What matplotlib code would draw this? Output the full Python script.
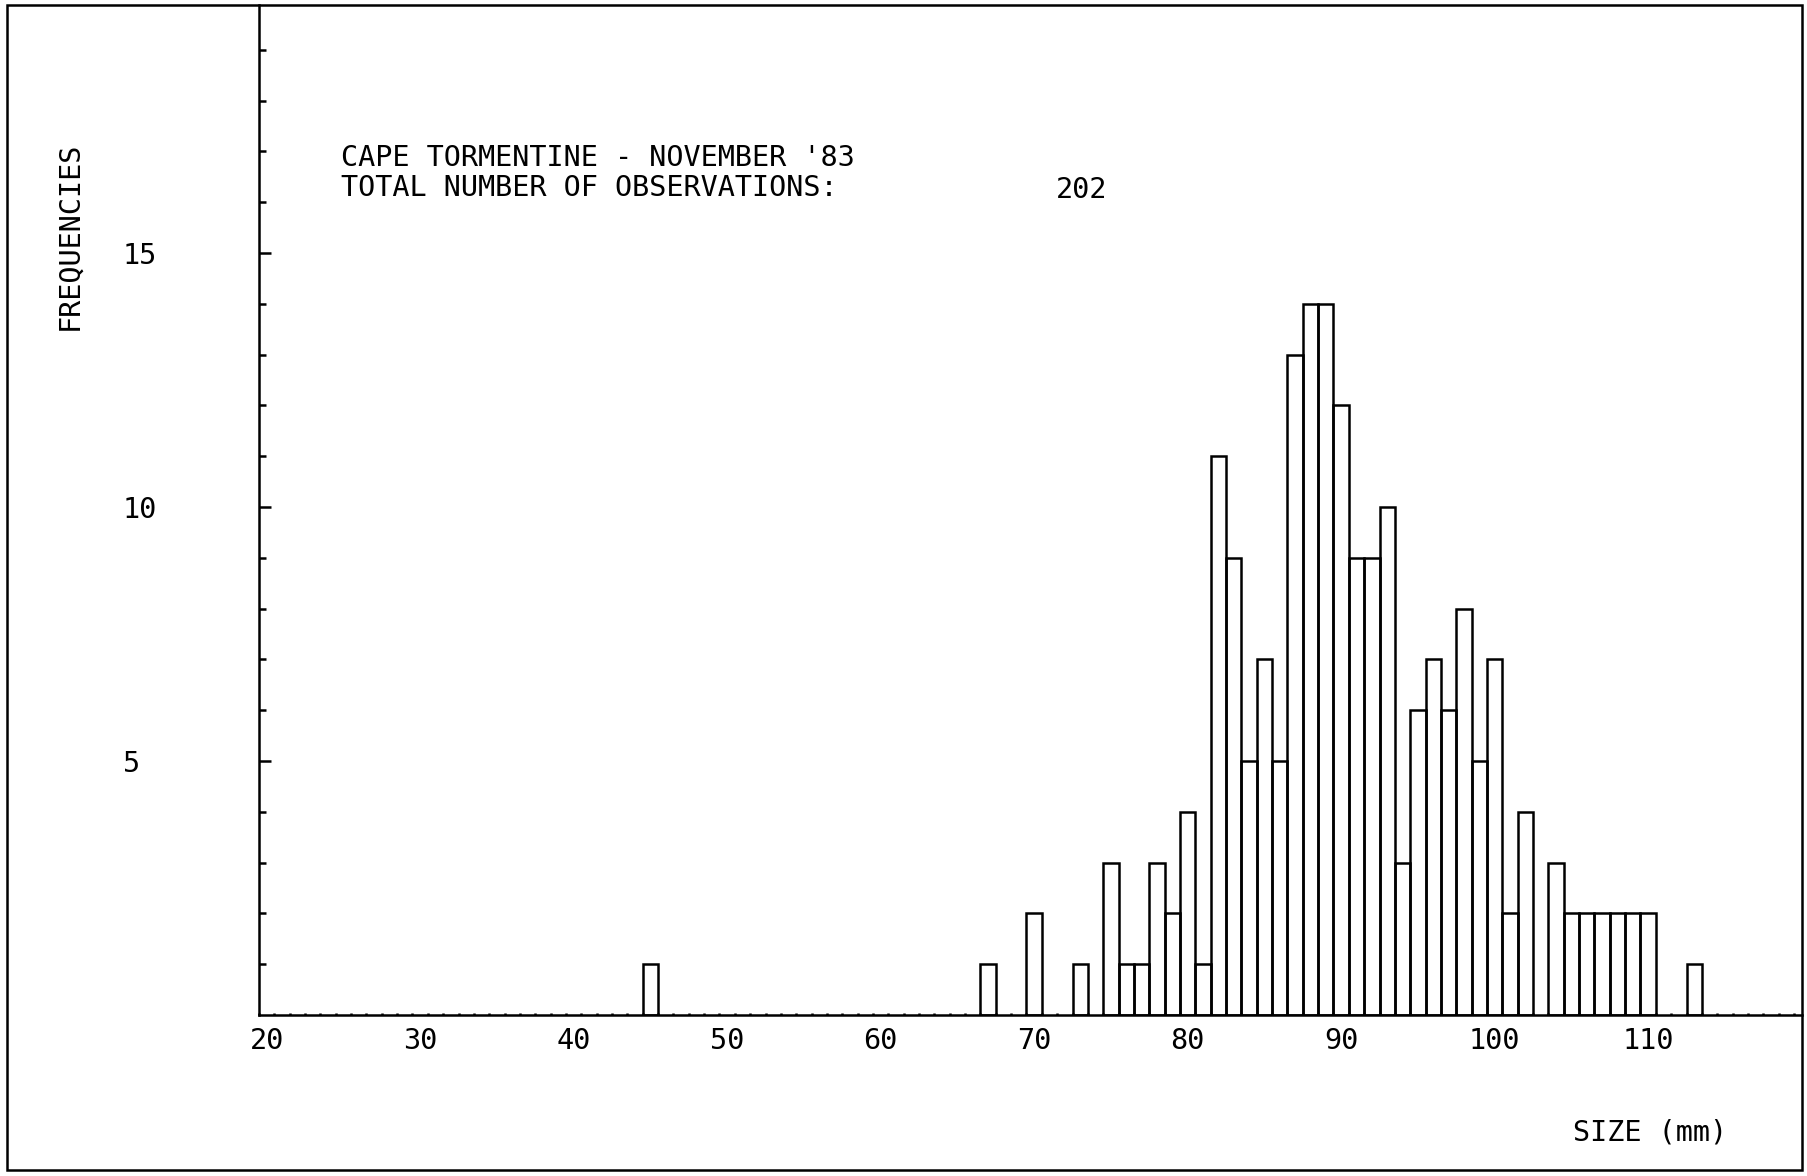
import matplotlib
matplotlib.use("Agg")
import matplotlib.pyplot as plt
from matplotlib.patches import Rectangle
from matplotlib.transforms import ScaledTranslation

# size classes (left edge of 1 mm bin) and their counts, empty classes left out
size_class = [45, 67, 70, 73, 75, 76, 77, 78, 79, 80, 81, 82, 83, 84, 85, 86,
              87, 88, 89, 90, 91, 92, 93, 94, 95, 96, 97, 98, 99, 100, 101, 102,
              104, 105, 106, 107, 108, 109, 110, 113]
counts = [1, 1, 2, 1, 3, 1, 1, 3, 2, 4, 1, 11, 9, 5, 7, 5,
          13, 14, 14, 12, 9, 9, 10, 3, 6, 7, 6, 8, 5, 7, 2, 4,
          3, 2, 2, 2, 2, 2, 2, 1]

xtick_vals = [20, 30, 40, 50, 60, 70, 80, 90, 100, 110]
ytick_vals = [5, 10, 15]

title_1 = "CAPE TORMENTINE - NOVEMBER '83"
title_2 = "TOTAL NUMBER OF OBSERVATIONS:"
n_obs = str(sum(counts))

W, H = 1808, 1176
DPI = 100
FONT = "DejaVu Sans Mono"
FS = 20.5
LW = 1.8

plt.rcParams['font.family'] = [FONT, 'DejaVu Sans']

fig = plt.figure(figsize=(W / DPI, H / DPI), dpi=DPI)

def fx(px):
    return px / W

def fy(py):
    return 1 - py / H

# axes box in pixels: y axis at x=259, x axis at y=1015
ax_l, ax_r, ax_t, ax_b = 259, 1802, 5, 1015
ax = fig.add_axes([fx(ax_l), fy(ax_b), fx(ax_r - ax_l), (ax_b - ax_t) / H])

ax.bar(size_class, counts, width=1, align='edge', fill=False,
       edgecolor='black', linewidth=LW)

ax.set_xlim(20, 20 + (ax_r - ax_l) / 15.35)
ax.set_ylim(0, (ax_b - ax_t) / 50.8)

for s in ['top', 'right']:
    ax.spines[s].set_visible(False)
for s in ['left', 'bottom']:
    ax.spines[s].set_linewidth(LW)

# y ticks: long at 5/10/15, short at every unit, pointing into the plot
ax.set_yticks(ytick_vals)
ax.set_yticks(range(1, 20), minor=True)
ax.tick_params(axis='y', which='major', direction='in', length=8.6, width=LW,
               pad=98, labelsize=FS)
ax.tick_params(axis='y', which='minor', direction='in', length=5, width=LW)
for lab in ax.get_yticklabels():
    lab.set_ha('left')

# x ticks: tiny marks at every unit, labels sit half a unit right of tick
ax.set_xticks(xtick_vals)
ax.set_xticklabels([str(v) for v in xtick_vals])
ax.set_xticks(range(20, 121), minor=True)
ax.tick_params(axis='x', which='both', direction='in', length=1.5, width=LW)
ax.tick_params(axis='x', which='major', pad=8.5, labelsize=FS)
shift = ScaledTranslation(7.7 / DPI, 0, fig.dpi_scale_trans)
for lab in ax.get_xticklabels():
    lab.set_transform(lab.get_transform() + shift)

# header text
fig.text(fx(341), fy(158), title_1, fontsize=FS, ha='left', va='center')
fig.text(fx(341), fy(188), title_2, fontsize=FS, ha='left', va='center')
fig.text(fx(1056), fy(190), n_obs, fontsize=FS, ha='left', va='center')

# axis titles
fig.text(fx(69), fy(236), "FREQUENCIES", fontsize=FS, rotation=90,
         ha='center', va='center')
fig.text(fx(1573), fy(1133), "SIZE (mm)", fontsize=FS, ha='left', va='center')

# outer frame
fig.patches.append(Rectangle((fx(7), fy(1170)), fx(1802 - 7), (1170 - 5) / H,
                             transform=fig.transFigure, fill=False,
                             edgecolor='black', linewidth=LW))

fig.savefig("out.png", dpi=DPI)
